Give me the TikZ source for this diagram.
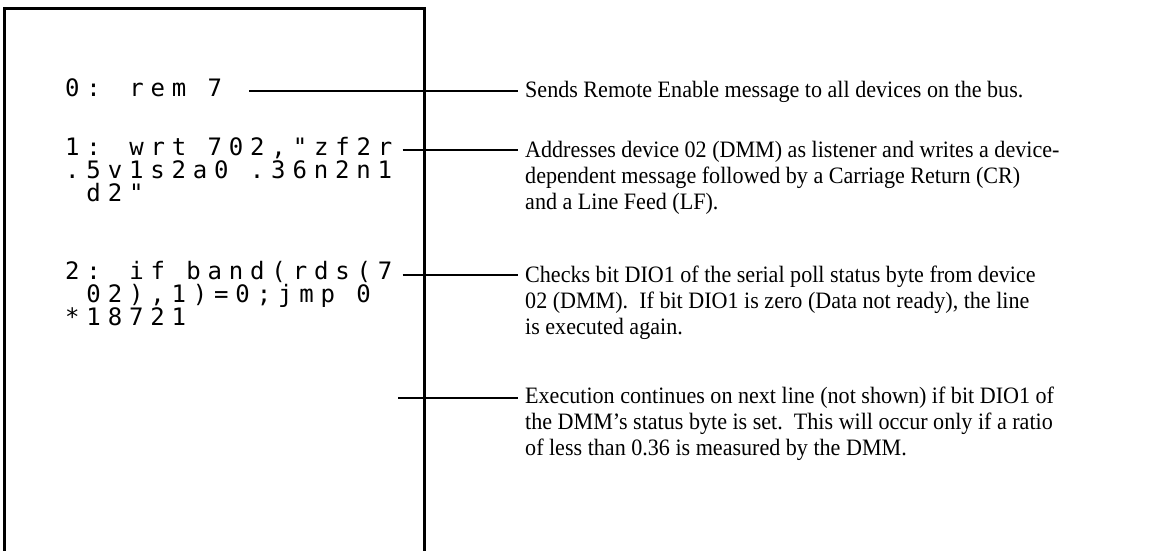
\documentclass[tikz,border=0pt]{standalone}
\usepackage{fontspec}
\setmainfont{Liberation Serif}
\newfontfamily\notefont[FakeStretch=0.94,Ligatures=TeX]{Liberation Serif}
\newfontfamily\codefont[LetterSpace=28.5]{DejaVu Sans Mono}
% stacked lines whose reference point is the first line's baseline
\newcommand\vlines[1]{\vtop{\let\\\cr\halign{##\hfil\cr#1\crcr}}}
\begin{document}
\begin{tikzpicture}[x=1pt,y=-1pt,
  frame/.style={line width=3pt},
  conn/.style={line width=2pt},
  code/.style={anchor=base west,inner sep=0pt,
    font=\codefont\fontsize{24}{23}\selectfont},
  note/.style={anchor=base west,inner sep=0pt,
    font=\notefont\fontsize{23.5}{26}\selectfont}]
\useasboundingbox (0,0) rectangle (1157,551);
\begin{scope}
\clip (0,0) rectangle (1157,551);
% printer listing frame, open at the bottom
\draw[frame] (4.5,560) -- (4.5,9) -- (424,9) -- (424,560);
\end{scope}

% program listing
\node[code] (c0) at (65,96)  {0: rem 7};
\node[code] (c1) at (65,155) {\vlines{1: wrt 702,"zf2r\\.5v1s2a0 .36n2n1\\\ d2"}};
\node[code] (c2) at (65,279) {\vlines{2: if band(rds(7\\\ 02),1)=0;jmp 0\\*18721}};

% explanations
\node[note] (d0) at (525,98)  {Sends Remote Enable message to all devices on the bus.};
\node[note] (d1) at (525,157) {\vlines{Addresses device 02 (DMM) as listener and writes a device-\\dependent message followed by a Carriage Return (CR)\\and a Line Feed (LF).}};
\node[note] (d2) at (525,282) {\vlines{Checks bit DIO1 of the serial poll status byte from device\\02 (DMM).\ \ If bit DIO1 is zero (Data not ready), the line\\is executed again.}};
\node[note] (d3) at (525,403) {\vlines{Execution continues on next line (not shown) if bit DIO1 of\\the DMM’s status byte is set.\ \ This will occur only if a ratio\\of less than 0.36 is measured by the DMM.}};

% leader lines
\coordinate (s0) at ([xshift=27pt,yshift=5pt]c0.base east);
\coordinate (s1) at ([xshift=10pt,yshift=5pt]c1.base east);
\coordinate (s2) at ([xshift=10pt,yshift=4pt]c2.base east);
\coordinate (s3) at (398,398);
\foreach \i in {0,1,2,3} {
  \coordinate (e\i) at ([xshift=-7pt]d\i.base west);
  \draw[conn] (s\i) -- (e\i |- s\i);
}
\end{tikzpicture}
\end{document}
